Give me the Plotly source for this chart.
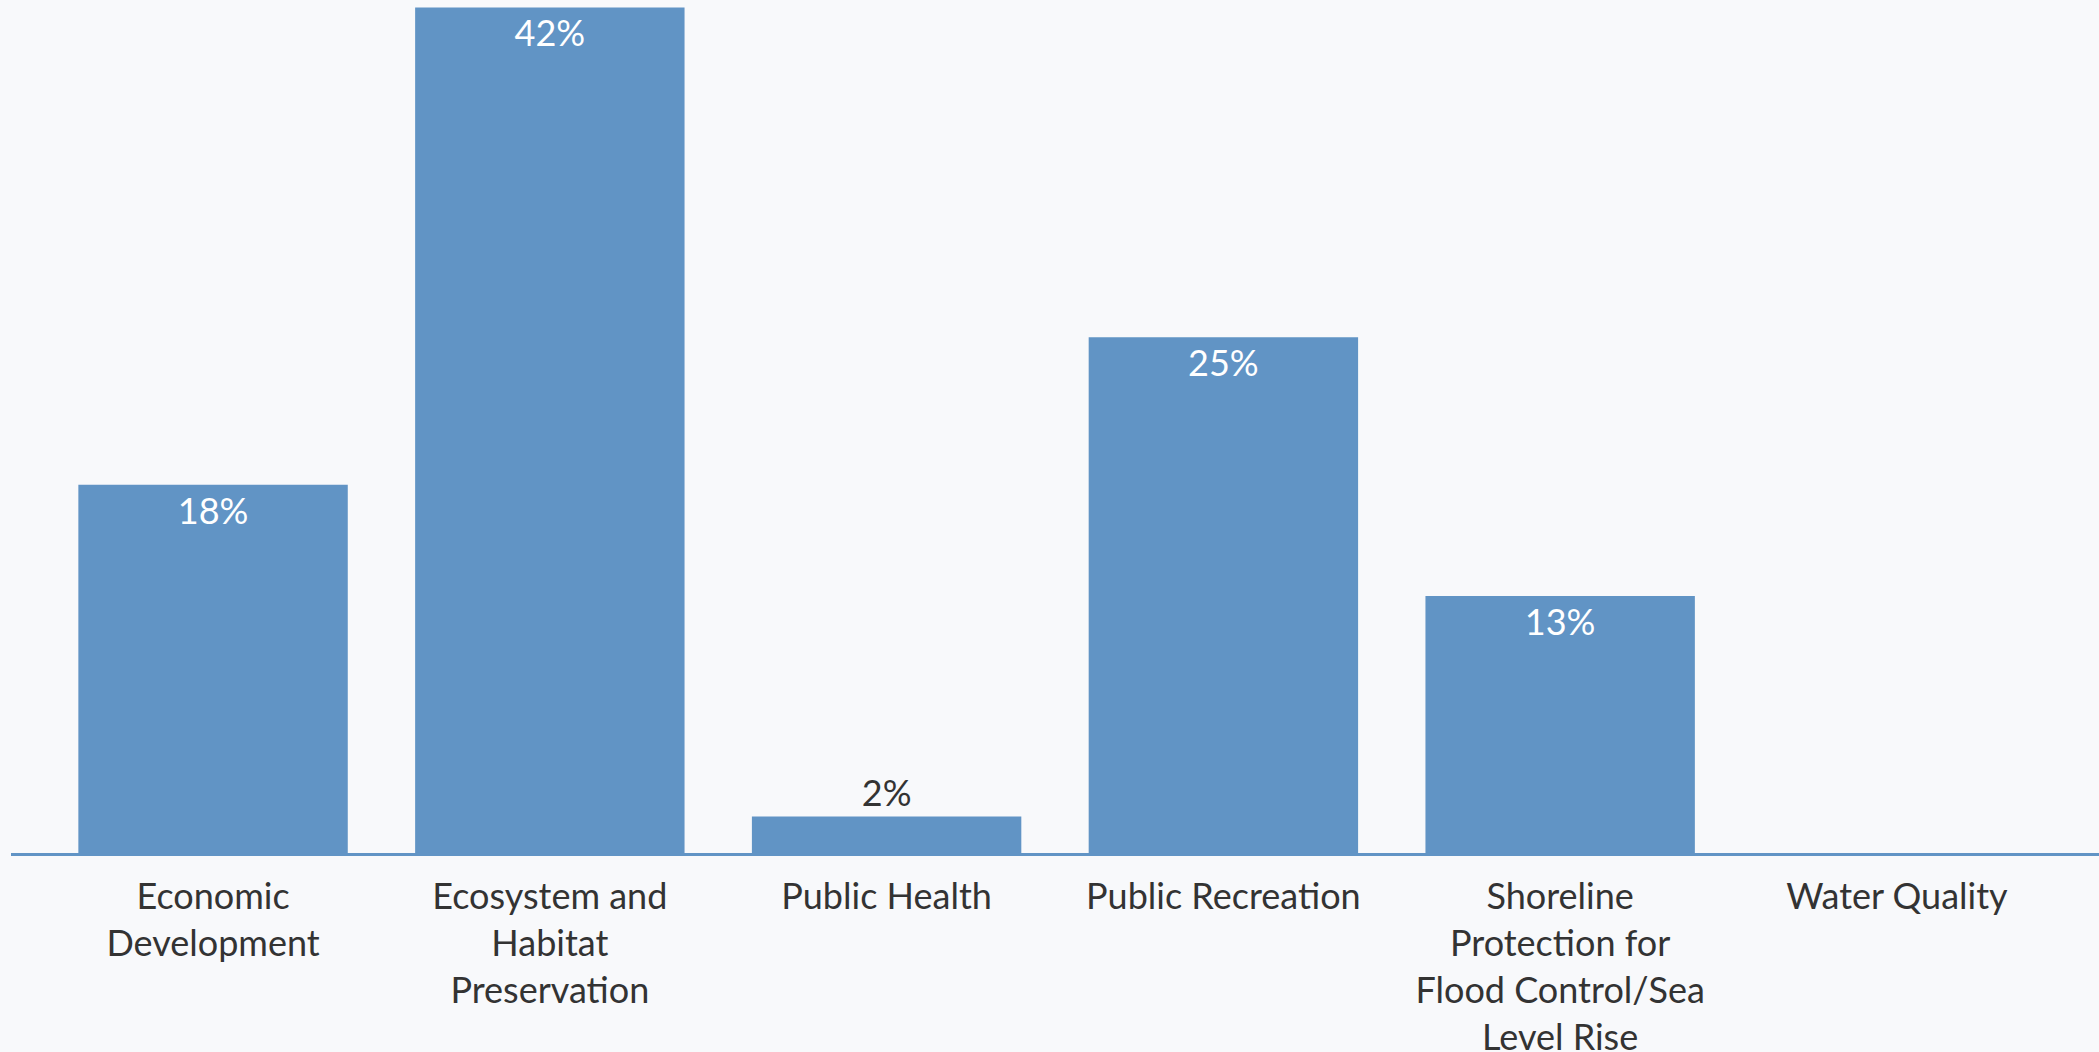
import plotly.graph_objects as go

categories = [
    "Economic<br>Development",
    "Ecosystem and<br>Habitat<br>Preservation",
    "Public Health",
    "Public Recreation",
    "Shoreline<br>Protection for<br>Flood Control/Sea<br>Level Rise",
    "Water Quality",
]
values = [18.2, 41.8, 1.8, 25.5, 12.7, 0]
labels = ["18%", "42%", "2%", "25%", "13%", ""]

BLUE = "#6194C5"
BG = "#F8F9FB"
FONT = "Source Sans Pro, Lato, sans-serif"
FS = 36

fig = go.Figure(
    go.Bar(
        x=categories,
        y=values,
        text=labels,
        textposition="auto",
        insidetextanchor="end",
        marker=dict(color=BLUE, line=dict(width=0)),
        insidetextfont=dict(color="white", size=FS, family=FONT),
        outsidetextfont=dict(color="#333333", size=FS, family=FONT),
        cliponaxis=False,
        hoverinfo="skip",
    )
)

fig.update_layout(
    width=2099,
    height=1052,
    paper_bgcolor=BG,
    plot_bgcolor=BG,
    margin=dict(l=11, r=0, t=0, b=199),
    bargap=0.2,
    showlegend=False,
    font=dict(family=FONT, size=FS, color="#333333"),
    xaxis=dict(
        range=[-0.6, 5.6],
        showline=True,
        linecolor=BLUE,
        linewidth=3,
        ticks="",
        showgrid=False,
        automargin=False,
        ticklabelstandoff=10,
        tickfont=dict(size=FS, color="#333333", family=FONT),
        fixedrange=True,
    ),
    yaxis=dict(
        range=[0, 42.17],
        visible=False,
        showgrid=False,
        zeroline=False,
        automargin=False,
        fixedrange=True,
    ),
)

fig.write_html(
    "out.html",
    config={"displayModeBar": False},
    post_script="document.body.style.margin='0';document.body.style.background='%s';" % BG,
)
